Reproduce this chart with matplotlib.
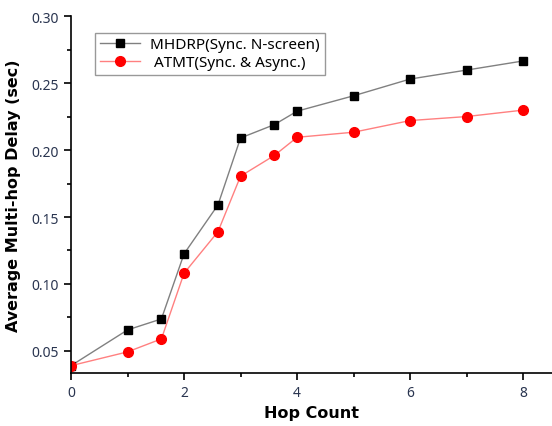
import matplotlib
matplotlib.use("Agg")
import matplotlib.pyplot as plt
from matplotlib.ticker import MultipleLocator

hops = [0, 1, 1.6, 2, 2.6, 3, 3.6, 4, 5, 6, 7, 8]
mhdrp = [0.039, 0.0657, 0.0739, 0.1225, 0.159, 0.209, 0.219, 0.229, 0.2405, 0.253, 0.2597, 0.2665]
atmt = [0.039, 0.0493, 0.059, 0.108, 0.139, 0.1805, 0.196, 0.2095, 0.2133, 0.222, 0.225, 0.2298]
labels = ["MHDRP(Sync. N-screen)", " ATMT(Sync. & Async.)"]

plt.rcParams['font.family'] = ['Noto Sans', 'DejaVu Sans']
fig = plt.figure(figsize=(5.52, 4.27), dpi=100)
ax = fig.add_axes([0.1286, 0.124, 0.8714, 0.836])

ax.plot(hops, mhdrp, color='#808080', lw=1, marker='s', ms=6,
        mfc='black', mec='black', label=labels[0])
ax.plot(hops, atmt, color='#ff8080', lw=1, marker='o', ms=7,
        mfc='red', mec='red', label=labels[1])

ax.set_xlim(0, 8.51)
ax.set_ylim(0.0335, 0.30)
ax.xaxis.set_major_locator(MultipleLocator(2))
ax.xaxis.set_minor_locator(MultipleLocator(1))
ax.yaxis.set_minor_locator(MultipleLocator(0.025))
ax.set_yticks([0.05, 0.10, 0.15, 0.20, 0.25, 0.30])
ax.yaxis.set_major_formatter(plt.FuncFormatter(lambda v, p: f"{v:.2f}"))
ax.tick_params(which='major', direction='out', length=5, width=1.2, labelsize=10, labelcolor='#2a3550')
ax.tick_params(which='minor', direction='out', length=3, width=1.2)
for s in ['top', 'right']:
    ax.spines[s].set_visible(False)
for s in ['left', 'bottom']:
    ax.spines[s].set_linewidth(1.2)

ax.set_xlabel("Hop Count", fontsize=11.5, fontweight='bold', family='DejaVu Sans', labelpad=4)
ax.set_ylabel("Average Multi-hop Delay (sec)", fontsize=11.5, fontweight='bold', family='DejaVu Sans', labelpad=8)

leg = ax.legend(loc='upper left', bbox_to_anchor=(0.035, 0.975), fontsize=11,
                fancybox=False, framealpha=1, edgecolor='#999999',
                handlelength=2.6, borderpad=0.3, labelspacing=0.2, handletextpad=0.7)
leg.get_frame().set_linewidth(1.0)

fig.savefig("out.png", dpi=100)
